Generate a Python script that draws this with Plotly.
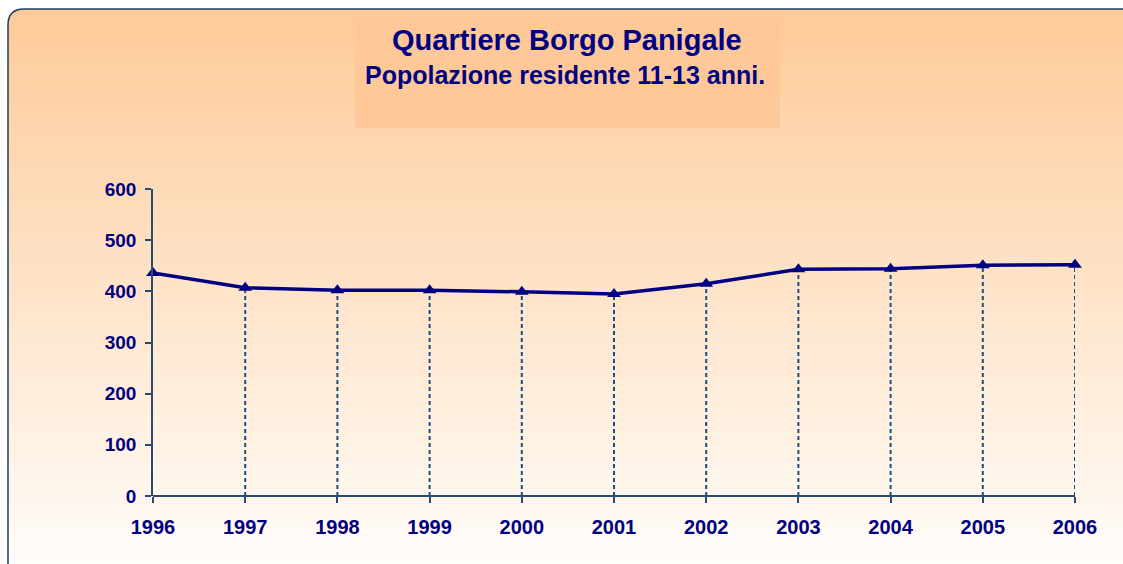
import plotly.graph_objects as go

years = [1996, 1997, 1998, 1999, 2000, 2001, 2002, 2003, 2004, 2005, 2006]
values = [436, 407, 402, 402, 399, 395, 415, 443, 444, 451, 452]
y_ticks = [0, 100, 200, 300, 400, 500, 600]
title = "Quartiere Borgo Panigale"
subtitle = "Popolazione residente 11-13 anni."

W, H = 1123, 564
L, R, T, B = 153, 48, 189, 68
PW, PH = W - L - R, H - T - B

def px(x):
    return (x - L) / PW

def py(y):
    return 1 - (y - T) / PH

NAVY = "#000080"
AX = "#2B4A6F"
FONT = "Liberation Sans, Arial, sans-serif"

fig = go.Figure()

# drop lines
dx, dy = [], []
for yr, v in zip(years[1:], values[1:]):
    dx += [yr, yr, None]
    dy += [0, v, None]
fig.add_trace(go.Scatter(x=dx, y=dy, mode="lines",
                         line=dict(color="#1F4E79", width=2, dash="4px,3px"),
                         hoverinfo="skip", showlegend=False))

fig.add_trace(go.Scatter(x=years, y=values, mode="lines+markers",
                         line=dict(color=NAVY, width=3.5),
                         marker=dict(symbol="triangle-up", size=12, color=NAVY),
                         cliponaxis=False, showlegend=False))

shapes = []
# gradient background bands
top_c = (254, 202, 152)
bot_c = (255, 253, 250)
y0, y1 = 9, H + 2
n = 111
step = (y1 - y0) / n
for i in range(n):
    t = i / (n - 1)
    c = tuple(round(top_c[k] + (bot_c[k] - top_c[k]) * t) for k in range(3))
    ya = y0 + i * step
    yb = ya + step + 0.6
    shapes.append(dict(type="rect", xref="paper", yref="paper",
                       x0=px(8), x1=px(W + 5), y0=py(ya), y1=py(yb),
                       fillcolor="rgb(%d,%d,%d)" % c, line=dict(width=0),
                       layer="below"))
# title box
shapes.append(dict(type="rect", xref="paper", yref="paper",
                   x0=px(355), x1=px(780), y0=py(12), y1=py(128),
                   fillcolor="#FEC898", line=dict(width=0), layer="below"))
# white corner mask
r = 16
x8, y9 = 8, 9
mask = (f"M {px(x8-2)},{py(y9-2)} L {px(x8+r)},{py(y9-2)} L {px(x8+r)},{py(y9)} "
        f"Q {px(x8)},{py(y9)} {px(x8)},{py(y9+r)} L {px(x8-2)},{py(y9+r)} Z")
shapes.append(dict(type="path", xref="paper", yref="paper", path=mask,
                   fillcolor="white", line=dict(width=0), layer="below"))
border = (f"M {px(x8)},{py(H+5)} L {px(x8)},{py(y9+r)} "
          f"Q {px(x8)},{py(y9)} {px(x8+r)},{py(y9)} L {px(W+5)},{py(y9)}")
shapes.append(dict(type="path", xref="paper", yref="paper", path=border,
                   line=dict(color="#1F3F66", width=1.5), layer="below"))

fig.update_layout(
    width=W, height=H,
    margin=dict(l=L, r=R, t=T, b=B),
    paper_bgcolor="white",
    plot_bgcolor="rgba(0,0,0,0)",
    shapes=shapes,
    showlegend=False,
    font=dict(family=FONT, color=NAVY),
    annotations=[
        dict(text="<b>%s</b>" % title, xref="paper", yref="paper",
             x=px(567), y=py(40), showarrow=False,
             font=dict(size=29, color=NAVY, family=FONT), xanchor="center", yanchor="middle"),
        dict(text="<b>%s</b>" % subtitle, xref="paper", yref="paper",
             x=px(565), y=py(75), showarrow=False,
             font=dict(size=25, color=NAVY, family=FONT), xanchor="center", yanchor="middle"),
    ],
)
fig.update_xaxes(range=[1996, 2006], tickvals=years,
                 ticktext=[str(y) for y in years],
                 showgrid=False, zeroline=False, showline=False,
                 ticks="outside", ticklen=6, tickcolor=AX, tickwidth=1.5,
                 tickfont=dict(size=20, color=NAVY, family=FONT, weight="bold"),
                 ticklabelstandoff=7)
fig.update_yaxes(range=[0, 600], tickvals=y_ticks,
                 showgrid=False, zeroline=True, zerolinecolor=AX, zerolinewidth=1.5,
                 showline=True, linecolor=AX, linewidth=1.5,
                 ticks="outside", ticklen=6, tickcolor=AX, tickwidth=1.5,
                 tickfont=dict(size=19, color=NAVY, family=FONT, weight="bold"),
                 ticklabelstandoff=5)
fig.add_shape(type="line", xref="paper", yref="y", x0=0, x1=1, y0=0, y1=0,
              line=dict(color=AX, width=1.5))

fig.write_html("out.html", config={"displayModeBar": False},
               post_script="document.body.style.margin='0px';")
